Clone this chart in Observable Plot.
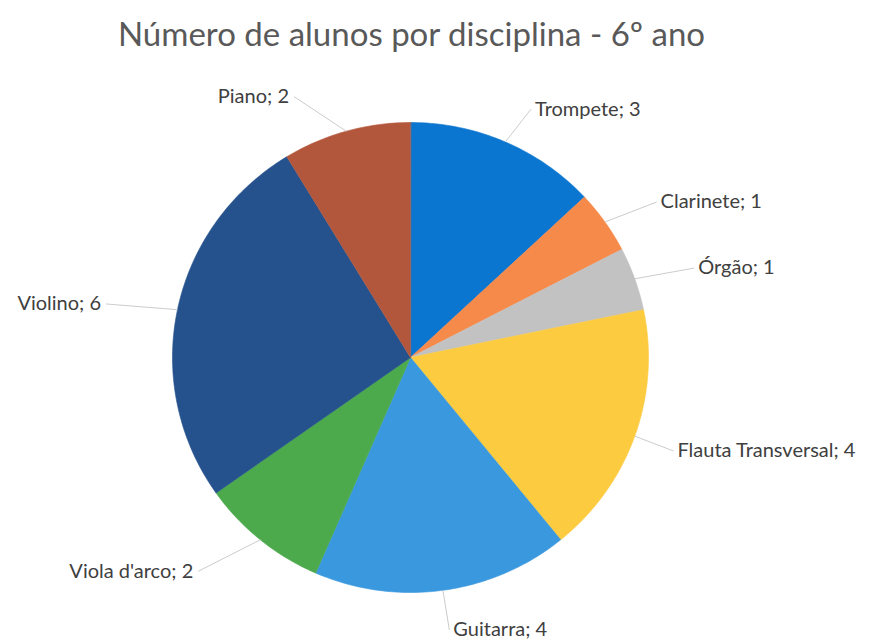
<!DOCTYPE html>
<html>
<head>
<meta charset="utf-8">
<script src="https://cdn.jsdelivr.net/npm/d3@7"></script>
<script src="https://cdn.jsdelivr.net/npm/@observablehq/plot@0.6"></script>
<style>
  body { margin: 0; background: #ffffff; }
  #title {
    width: 823px; height: 60px; box-sizing: border-box; padding-top: 14px;
    text-align: center; font-family: Lato, "Open Sans", sans-serif;
    font-size: 33px; line-height: 38px; color: #595959; white-space: nowrap;
  }
</style>
</head>
<body>
<div id="title">Número de alunos por disciplina - 6º ano</div>
<div id="chart"></div>
<script>
// ---- data ----
const categories = ["Trompete", "Clarinete", "Órgão", "Flauta Transversal", "Guitarra", "Viola d'arco", "Violino", "Piano"];
const values = [3, 1, 1, 4, 4, 2, 6, 2];
const colors = ["#0b76d0", "#f68a4b", "#c2c2c2", "#fdcb40", "#3a98de", "#4caa4c", "#25528d", "#b3573c"];

// ---- geometry derived from the data ----
const total = d3.sum(values);
let cum = 0;
const slices = categories.map((name, i) => {
  const a0 = cum / total * 2 * Math.PI;
  cum += values[i];
  const a1 = cum / total * 2 * Math.PI;
  return {name, value: values[i], a0, a1, mid: (a0 + a1) / 2};
});

// polygon outline of each slice (unit circle, angle clockwise from top)
const outline = slices.flatMap(s => {
  const n = Math.max(2, Math.ceil((s.a1 - s.a0) / (Math.PI / 180)));
  const pts = [{name: s.name, x: 0, y: 0}];
  for (let k = 0; k <= n; k++) {
    const a = s.a0 + (s.a1 - s.a0) * k / n;
    pts.push({name: s.name, x: Math.sin(a), y: Math.cos(a)});
  }
  return pts;
});

const RX = 238, RY = 235;  // pixel radii of the pie
const labels = slices.map(s => {
  const sx = Math.sin(s.mid), cy = Math.cos(s.mid);
  const right = sx >= 0;
  const offX = (right ? sx * (cy > 0 ? 62 : 40) + 1 : -(45 + 27 * Math.abs(sx))) / RX;
  const offY = (cy * 38 - 2) / RY;
  return {
    name: s.name,
    text: `${s.name}; ${s.value}`,
    ex: sx, ey: cy,
    lx: sx + offX, ly: cy + offY,
    anchor: right ? "start" : "end"
  };
});

const chart = Plot.plot({
  width: 869,
  height: 580,
  margin: 0,
  x: {domain: [-1, 1], range: [410 - RX, 410 + RX], axis: null},
  y: {domain: [-1, 1], range: [297 + RY, 297 - RY], axis: null},
  color: {domain: categories, range: colors},
  style: {fontFamily: "Lato, 'Open Sans', sans-serif", background: "#ffffff"},
  marks: [
    Plot.line(outline, {x: "x", y: "y", z: "name", fill: "name", stroke: "name", strokeWidth: 0.6, curve: "linear-closed"}),
    Plot.link(labels, {x1: "ex", y1: "ey", x2: "lx", y2: "ly", stroke: "#cccccc", strokeWidth: 1}),
    Plot.text(labels.filter(d => d.anchor === "start"), {x: "lx", y: "ly", text: "text", textAnchor: "start", dx: 4, fontSize: 20, fill: "#404040"}),
    Plot.text(labels.filter(d => d.anchor === "end"), {x: "lx", y: "ly", text: "text", textAnchor: "end", dx: -5, fontSize: 20, fill: "#404040"})
  ]
});
document.getElementById("chart").appendChild(chart);
</script>
</body>
</html>
